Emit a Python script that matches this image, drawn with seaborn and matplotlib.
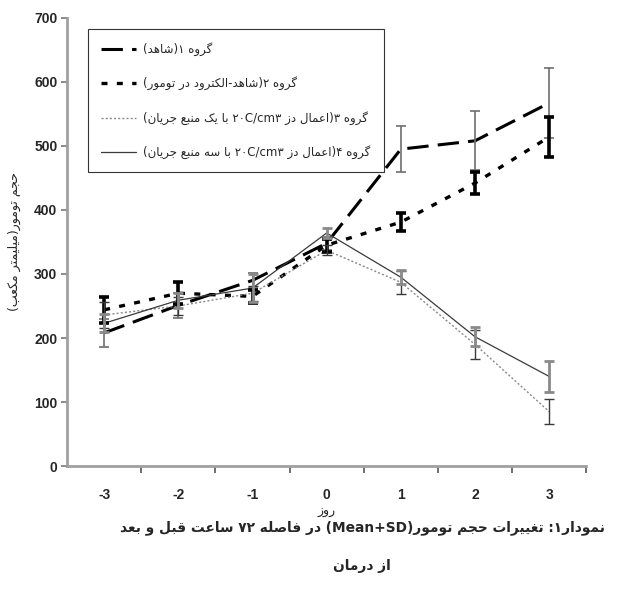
import re
import numpy as np
import pandas as pd
import matplotlib
matplotlib.use("Agg")
import matplotlib.pyplot as plt
import seaborn as sns

# data (tumour volume, mean and SD per day)
days = [-3, -2, -1, 0, 1, 2, 3]
g1 = [208, 251, 290, 348, 495, 508, 567]
sd1 = [22, 20, 12, 10, 36, 46, 54]
g2 = [244, 270, 265, 345, 381, 442, 514]
sd2 = [20, 17, 10, 10, 14, 17, 31]
g3 = [236, 250, 270, 337, 287, 190, 85]
sd3 = [20, 14, 12, 8, 18, 22, 20]
g4 = [223, 259, 278, 364, 295, 202, 140]
sd4 = [14, 12, 22, 8, 11, 15, 24]

names = [
    "گروه ۱(شاهد)",
    "گروه ۲(شاهد-الکترود در تومور)",
    "گروه ۳(اعمال دز ۲۰C/cm۳ با یک منبع جریان)",
    "گروه ۴(اعمال دز ۲۰C/cm۳ با سه منبع جریان)",
]
x_label = "روز"
y_label = "حجم تومور(میلیمتر مکعب)"
caption1 = "نمودار۱: تغییرات حجم تومور(Mean+SD) در فاصله ۷۲ ساعت قبل و بعد"
caption2 = "از درمان"

# --- minimal Persian shaping + RTL ordering (matplotlib has no bidi) ---
FORMS = {
    "ب": "\uFE8F\uFE90\uFE91\uFE92", "ت": "\uFE95\uFE96\uFE97\uFE98",
    "ج": "\uFE9D\uFE9E\uFE9F\uFEA0", "ح": "\uFEA1\uFEA2\uFEA3\uFEA4",
    "س": "\uFEB1\uFEB2\uFEB3\uFEB4", "ش": "\uFEB5\uFEB6\uFEB7\uFEB8",
    "ص": "\uFEB9\uFEBA\uFEBB\uFEBC", "ع": "\uFEC9\uFECA\uFECB\uFECC",
    "غ": "\uFECD\uFECE\uFECF\uFED0", "ف": "\uFED1\uFED2\uFED3\uFED4",
    "ق": "\uFED5\uFED6\uFED7\uFED8", "ل": "\uFEDD\uFEDE\uFEDF\uFEE0",
    "م": "\uFEE1\uFEE2\uFEE3\uFEE4", "ن": "\uFEE5\uFEE6\uFEE7\uFEE8",
    "ه": "\uFEE9\uFEEA\uFEEB\uFEEC", "ک": "\uFB8E\uFB8F\uFB90\uFB91",
    "گ": "\uFB92\uFB93\uFB94\uFB95", "ی": "\uFBFC\uFBFD\uFBFE\uFBFF",
    "ا": "\uFE8D\uFE8E", "د": "\uFEA9\uFEAA", "ر": "\uFEAD\uFEAE",
    "ز": "\uFEAF\uFEB0", "و": "\uFEED\uFEEE",
}
LTR = r"[A-Za-z0-9\u06F0-\u06F9]+(?:[+/.][A-Za-z0-9\u06F0-\u06F9]+)*"


def fa(s):
    s = s.replace("\u064A", "ی").replace("\u0643", "ک")
    out = []
    for i, ch in enumerate(s):
        f = FORMS.get(ch)
        if f is None:
            out.append(ch)
            continue
        prev = s[i - 1] if i > 0 else ""
        nxt = s[i + 1] if i < len(s) - 1 else ""
        pj = prev in FORMS and len(FORMS[prev]) == 4
        nj = nxt in FORMS
        if len(f) == 4:
            out.append(f[3] if pj and nj else f[1] if pj else f[2] if nj else f[0])
        else:
            out.append(f[1] if pj else f[0])
    tokens = re.findall(LTR + "|.", "".join(out), flags=re.S)[::-1]
    mirror = {"(": ")", ")": "("}
    return "".join(mirror.get(t, t) for t in tokens)


sns.set_style("white")
plt.rcParams["font.family"] = ["DejaVu Sans"]
plt.rcParams["axes.unicode_minus"] = False

df = pd.DataFrame({"day": days * 4,
                   "volume": g1 + g2 + g3 + g4,
                   "sd": sd1 + sd2 + sd3 + sd4,
                   "group": sum([[n] * len(days) for n in names], [])})

fig = plt.figure(figsize=(6.27, 5.96), dpi=100)
ax = fig.add_axes([0.107, 0.218, 0.828, 0.752])

styles = [
    dict(color="black", lw=2.2, ls=(0, (7, 3))),
    dict(color="black", lw=2.4, ls=(0, (1.8, 2.8))),
    dict(color="#8a8a8a", lw=1.0, ls=(0, (1.5, 1.5))),
    dict(color="#3a3a3a", lw=0.9, ls="-"),
]
err_styles = [
    dict(color="#6e6e6e", lw=1.2, capthick=1.2),
    dict(color="black", lw=2.6, capthick=2.6),
    dict(color="#3a3a3a", lw=1.0, capthick=1.0),
    dict(color="#8a8a8a", lw=2.0, capthick=2.0),
]

for name, st, es in zip(names, styles, err_styles):
    sub = df[df["group"] == name]
    sns.lineplot(data=sub, x="day", y="volume", ax=ax, color=st["color"],
                 lw=st["lw"], linestyle=st["ls"], label=fa(name), errorbar=None)
    ax.errorbar(sub["day"], sub["volume"], yerr=sub["sd"], fmt="none",
                ecolor=es["color"], elinewidth=es["lw"], capsize=3.6,
                capthick=es["capthick"], zorder=3)

ax.set_xlim(-3.5, 3.5)
ax.set_ylim(0, 700)
ax.set_yticks(range(0, 701, 100))
ax.set_xticks(days)
ax.set_xticks([-2.5, -1.5, -0.5, 0.5, 1.5, 2.5, 3.5], minor=True)
ax.tick_params(axis="x", which="major", length=0, pad=16)
ax.tick_params(axis="x", which="minor", length=5, width=1.2, color="#555555",
               direction="out", bottom=True)
ax.tick_params(axis="y", length=4, width=1.2, color="#777777", direction="out",
               left=True, pad=3)
for lab in ax.get_xticklabels() + ax.get_yticklabels():
    lab.set_fontfamily("Liberation Sans")
    lab.set_fontweight("bold")
    lab.set_fontsize(10)

for side in ["top", "right"]:
    ax.spines[side].set_visible(False)
for side in ["left", "bottom"]:
    ax.spines[side].set_color("#a0a0a0")
    ax.spines[side].set_linewidth(2)

ax.set_xlabel(fa(x_label), fontsize=9, labelpad=2)
ax.set_ylabel(fa(y_label), fontsize=9)
ax.yaxis.set_label_coords(-0.088, 0.5)

leg = ax.legend(loc="upper left", bbox_to_anchor=(0.04, 0.975), borderaxespad=0,
                fontsize=8.5, frameon=True, fancybox=False, handlelength=3.0,
                labelspacing=1.75, borderpad=1.1, handletextpad=0.6)
leg.get_frame().set_edgecolor("black")
leg.get_frame().set_linewidth(0.8)

fig.text(362 / 627, 1 - 528 / 596, fa(caption1), ha="center", va="center",
         fontsize=9.9, fontweight="bold")
fig.text(362 / 627, 1 - 566 / 596, fa(caption2), ha="center", va="center",
         fontsize=9.9, fontweight="bold")

plt.savefig("out.png", dpi=100)
